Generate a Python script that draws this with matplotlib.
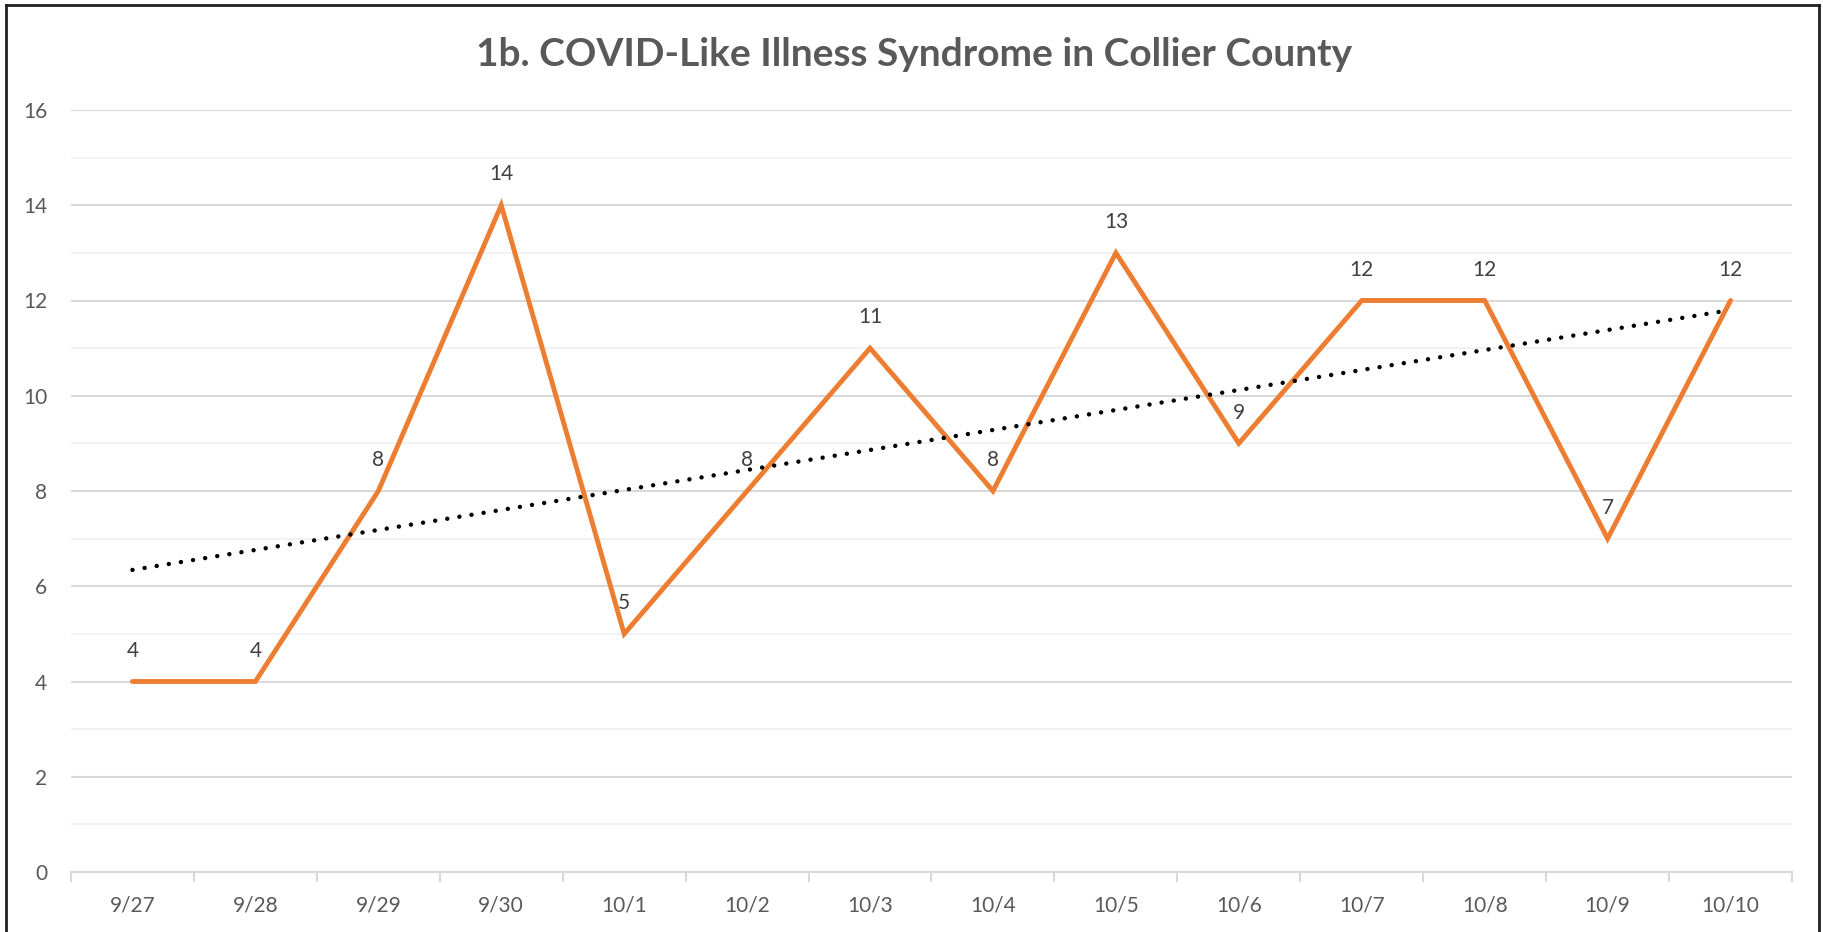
import matplotlib
matplotlib.use("Agg")
import matplotlib.pyplot as plt
import numpy as np
from matplotlib.lines import Line2D

dates = ["9/27", "9/28", "9/29", "9/30", "10/1", "10/2", "10/3", "10/4",
         "10/5", "10/6", "10/7", "10/8", "10/9", "10/10"]
counts = [4, 4, 8, 14, 5, 8, 11, 8, 13, 9, 12, 12, 7, 12]
title = "1b. COVID-Like Illness Syndrome in Collier County"

plt.rcParams['font.family'] = ['Lato', 'DejaVu Sans']
txt = '#595959'

fig = plt.figure(figsize=(18.24, 9.32), dpi=100)
ax = fig.add_axes([71/1824, 1-872/932, (1792-71)/1824, (872-110)/932])

x = np.arange(len(dates))
ax.plot(x, counts, color='#ED7D31', lw=3.5, solid_joinstyle='miter',
        solid_capstyle='round', zorder=3)

# linear trendline
coef = np.polyfit(x, counts, 1)
ax.plot(x, np.polyval(coef, x), color='black', lw=3.2,
        linestyle=(0, (0.01, 2.75)), dash_capstyle='round', zorder=4)

for xi, v in zip(x, counts):
    ax.annotate(str(v), (xi, v), xytext=(0, 15), textcoords='offset points',
                ha='center', va='bottom', fontsize=15, color='#404040')

ax.set_xlim(-0.5, len(dates) - 0.5)
ax.set_ylim(0, 16)
ax.set_yticks(np.arange(0, 17, 2))
ax.set_yticks(np.arange(1, 17, 2), minor=True)
ax.grid(axis='y', which='major', color='#D9D9D9', lw=1.5)
ax.grid(axis='y', which='minor', color='#F2F2F2', lw=1.5)
ax.set_axisbelow(True)

ax.set_xticks(x)
ax.set_xticklabels(dates)
ax.set_xticks(np.arange(-0.5, len(dates), 1), minor=True)
ax.tick_params(axis='x', which='major', length=0, pad=17, labelsize=15, labelcolor=txt)
ax.tick_params(axis='x', which='minor', length=7, width=1.5, color='#D9D9D9', direction='out')
ax.tick_params(axis='y', which='both', length=0, pad=17, labelsize=15, labelcolor=txt)

for s in ['top', 'right', 'left']:
    ax.spines[s].set_visible(False)
ax.spines['bottom'].set_color('#D9D9D9')
ax.spines['bottom'].set_linewidth(1.5)

fig.text(914/1824, 1-55/932, title, ha='center', va='center',
         fontsize=28, fontweight='bold', color=txt)

# chart border
for (x0, y0, x1, y1) in [(6, 5, 1819, 5), (6, 5, 6, 940), (1819, 5, 1819, 940)]:
    fig.add_artist(Line2D([x0/1824, x1/1824], [1-y0/932, 1-y1/932],
                          transform=fig.transFigure, color='#202020', lw=2))

fig.savefig("out.png", dpi=100, facecolor='white')
